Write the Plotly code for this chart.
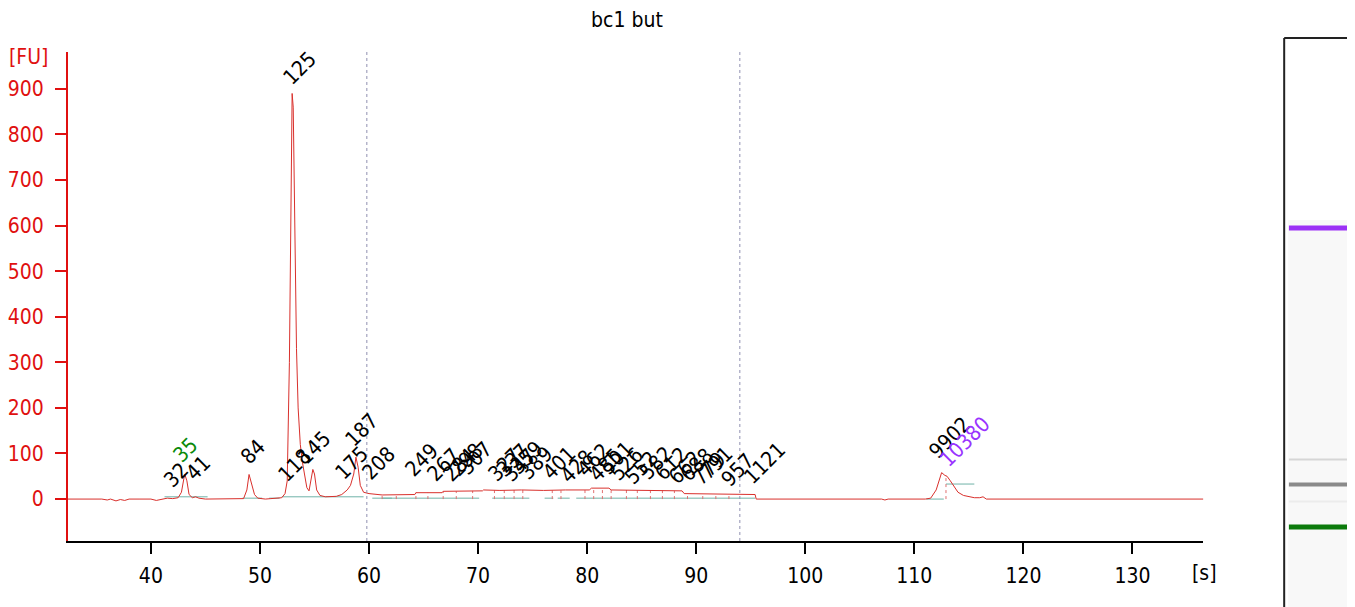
import plotly.graph_objects as go

FONT = "DejaVu Sans Condensed"
FS = 21

# ---- electropherogram trace (time [s], fluorescence [FU]) ----
trace_time = [32.4, 35.5, 36.0, 36.3, 36.8, 37.2, 37.6, 38.0, 39.0, 40.0, 40.5, 41.0, 41.5, 42.0,
              42.5, 42.8, 43.1, 43.3, 43.5, 43.8, 44.1, 44.4, 45.0, 48.5, 48.8, 49.0, 49.2, 49.5,
              49.8, 50.5, 51.0, 52.0, 52.3, 52.5, 52.7, 52.85, 52.95, 53.05, 53.2, 53.35, 53.5,
              53.7, 53.9, 54.1, 54.3, 54.5, 54.7, 54.85, 55.0, 55.2, 55.5, 56.0, 57.0, 57.5, 58.0,
              58.3, 58.6, 58.8, 59.0, 59.2, 59.5, 60.0, 61.2, 64.2, 64.3, 66.7, 66.8, 70.4, 70.5,
              72.0, 74.0, 76.0, 78.0, 80.2, 80.4, 82.0, 82.2, 85.0, 88.7, 88.9, 92.0, 95.4, 95.5,
              107.0, 107.3, 107.6, 111.0, 111.5, 112.0, 112.3, 112.5, 112.8, 113.0, 113.3, 113.6,
              114.0, 114.5, 115.0, 115.5, 116.0, 116.3, 116.6, 117.0, 136.5]
trace_fu = [0, 0, -2, 0, -4, -1, -3, 0, 0, 0, -3, 0, 2, 1,
            3, 15, 55, 40, 10, 3, 5, 2, 0, 1, 20, 54, 35, 10,
            2, 0, 1, 3, 12, 40, 300, 780, 890, 860, 600, 330, 200,
            120, 80, 50, 25, 18, 45, 65, 55, 20, 8, 5, 6, 10, 20,
            30, 55, 92, 70, 30, 15, 12, 9, 10, 14, 14, 17, 18, 20,
            19, 20, 19, 20, 20, 24, 24, 20, 19, 18, 12, 11, 10, 0,
            0, -2, 0, 0, 2, 20, 45, 58, 52, 50, 40, 30,
            15, 8, 5, 3, 3, 5, 0, 0, 0]

# ---- peak labels ----
label_text = ["32", "35", "41", "84", "118", "125", "145", "175", "187", "208", "249", "267",
              "284", "298", "307", "327", "337", "347", "359", "389", "401", "428", "462", "485",
              "501", "526", "552", "582", "612", "662", "688", "779", "791", "957", "1121",
              "9902", "10380"]
label_time = [41.37, 42.2, 43.4, 48.4, 51.9, 52.35, 53.6, 57.1, 58.0, 59.6, 63.5, 65.5,
              67.0, 67.6, 68.5, 71.1, 71.9, 72.5, 73.1, 74.0, 76.1, 77.7, 79.3, 80.4,
              81.4, 82.3, 83.6, 85.0, 86.4, 87.6, 88.7, 89.8, 90.5, 92.5, 94.6,
              111.5, 112.5]
label_fu = [20, 75, 35, 70, 31, 902, 70, 35, 108, 35, 42, 31,
            31, 42, 46, 31, 42, 31, 46, 37, 37, 28, 42, 31,
            46, 33, 26, 37, 33, 26, 31, 24, 37, 20, 26,
            81, 64]
label_color = ["black", "green", "black", "black", "black", "black", "black", "black", "black",
               "black", "black", "black", "black", "black", "black", "black", "black", "black",
               "black", "black", "black", "black", "black", "black", "black", "black", "black",
               "black", "black", "black", "black", "black", "black", "black", "black",
               "black", "purple"]

# ---- integration baselines (start, end, level) ----
base_start = [41.25, 48.4, 50.85, 52.0, 60.3, 61.2, 71.3, 76.1, 77.3, 79.0, 111.1, 112.9]
base_end = [45.2, 50.2, 51.8, 59.5, 62.1, 70.1, 74.7, 76.9, 78.4, 95.4, 112.7, 115.5]
base_level = [5, 2, 2, 5, 2, 2, 2, 2, 2, 2, 0, 33]

# ---- peak boundaries (dotted red verticals: time, top) ----
bound_time = [61.2, 62.5, 64.3, 65.4, 66.8, 68.0, 69.5, 71.5, 72.4, 73.3, 74.1, 76.8, 77.6,
              79.8, 80.6, 81.4, 82.2, 83.6, 84.6, 85.8, 86.9, 88.0, 89.2, 90.6, 91.8, 93.0,
              112.9]
bound_top = [9, 9, 14, 14, 17, 17, 18, 19, 19, 20, 20, 19, 19,
             20, 24, 24, 22, 20, 19, 19, 19, 18, 12, 11, 11, 10,
             46]

# ---- region markers (dotted verticals) ----
region_time = [59.8, 94.0]

# ---- gel lane bands (migration time, colour, thickness) ----
band_time = [43.1, 49.0, 52.95, 58.75, 112.5]
band_color = ["#0b7a0b", "#ececec", "#8a8a8a", "#d6d6d6", "#9b30f5"]
band_width = [5, 2, 4, 2, 5]

fig = go.Figure()

for s, e, lv in zip(base_start, base_end, base_level):
    fig.add_trace(go.Scatter(x=[s, e], y=[lv, lv], mode="lines",
                             line=dict(color="#6fb3a8", width=1), showlegend=False,
                             hoverinfo="skip", xaxis="x", yaxis="y"))

for t, top in zip(bound_time, bound_top):
    fig.add_trace(go.Scatter(x=[t, t], y=[0, top], mode="lines",
                             line=dict(color="#e07070", width=1, dash="dot"), showlegend=False,
                             hoverinfo="skip", xaxis="x", yaxis="y"))

fig.add_trace(go.Scatter(x=trace_time, y=trace_fu, mode="lines",
                         line=dict(color="#d9302c", width=1), hoverinfo="skip",
                         showlegend=False, xaxis="x", yaxis="y"))

for t, c, w in zip(band_time, band_color, band_width):
    fig.add_trace(go.Scatter(x=[0.06, 1], y=[t, t], mode="lines",
                             line=dict(color=c, width=w), showlegend=False,
                             hoverinfo="skip", xaxis="x2", yaxis="y2"))

annotations = []
for txt, t, v, c in zip(label_text, label_time, label_fu, label_color):
    col = {"black": "black", "green": "#0a8a0a", "purple": "#9933ff"}[c]
    annotations.append(dict(x=t, y=v, xref="x", yref="y", text=txt, textangle=-45,
                            xanchor="left", yanchor="bottom", showarrow=False,
                            xshift=-8, yshift=-3,
                            font=dict(family=FONT, size=FS, color=col), borderpad=0))

annotations.append(dict(x=-0.047, y=0.96707, xref="paper", yref="paper", text="[FU]",
                        xanchor="left", yanchor="middle", showarrow=False,
                        font=dict(family=FONT, size=FS, color="#e01010")))
annotations.append(dict(x=0.8775, y=0.07279, xref="paper", yref="paper", text="[s]",
                        xanchor="center", yanchor="middle", showarrow=False,
                        font=dict(family=FONT, size=FS, color="black")))

shapes = []
for t in region_time:
    shapes.append(dict(type="line", xref="x", yref="y domain", x0=t, x1=t, y0=0, y1=1,
                       line=dict(color="#8f8fb0", width=1, dash="dot")))
# gel lane frame and background
shapes.append(dict(type="rect", xref="x2 domain", yref="y2 domain", x0=0.05, x1=1, y0=0, y1=0.68,
                   fillcolor="#f8f8f8", line=dict(width=0), layer="below"))
shapes.append(dict(type="line", xref="x2 domain", yref="y2 domain", x0=0, x1=0, y0=-0.05, y1=1,
                   line=dict(color="#222", width=2)))
shapes.append(dict(type="line", xref="x2 domain", yref="y2 domain", x0=0, x1=1, y0=1, y1=1,
                   line=dict(color="#222", width=2)))

fig.update_layout(
    width=1355, height=607,
    margin=dict(l=57, r=0, t=30, b=0),
    paper_bgcolor="white", plot_bgcolor="white",
    title=dict(text="bc1 but", x=0.4568, xanchor="center", y=0.9802, yanchor="middle",
               font=dict(family=FONT, size=FS, color="black")),
    font=dict(family=FONT, size=FS),
    xaxis=dict(domain=[0, 0.87673], range=[32.4, 136.5], showgrid=False, zeroline=False,
               showline=True, linecolor="black", linewidth=1.5, ticks="outside", ticklen=11,
               tickcolor="black", tickwidth=1.5, tickvals=list(range(40, 131, 10)),
               ticklabelstandoff=4,
               tickfont=dict(family=FONT, size=FS, color="black"), anchor="y"),
    yaxis=dict(domain=[0.12825, 0.97574], range=[-92, 981], showgrid=False, zeroline=False,
               showline=True, linecolor="#e01010", linewidth=2, ticks="outside", ticklen=11,
               tickcolor="#e01010", tickwidth=1.5, tickvals=list(range(0, 901, 100)),
               ticklabelstandoff=7,
               tickfont=dict(family=FONT, size=FS, color="#e01010"), anchor="x"),
    xaxis2=dict(domain=[0.93914, 1], range=[0, 1], visible=False, anchor="y2"),
    yaxis2=dict(domain=[0.01386, 1], range=[24.5, 156.6], visible=False, anchor="x2"),
    annotations=annotations,
    shapes=shapes,
)

fig.write_html("out.html")
